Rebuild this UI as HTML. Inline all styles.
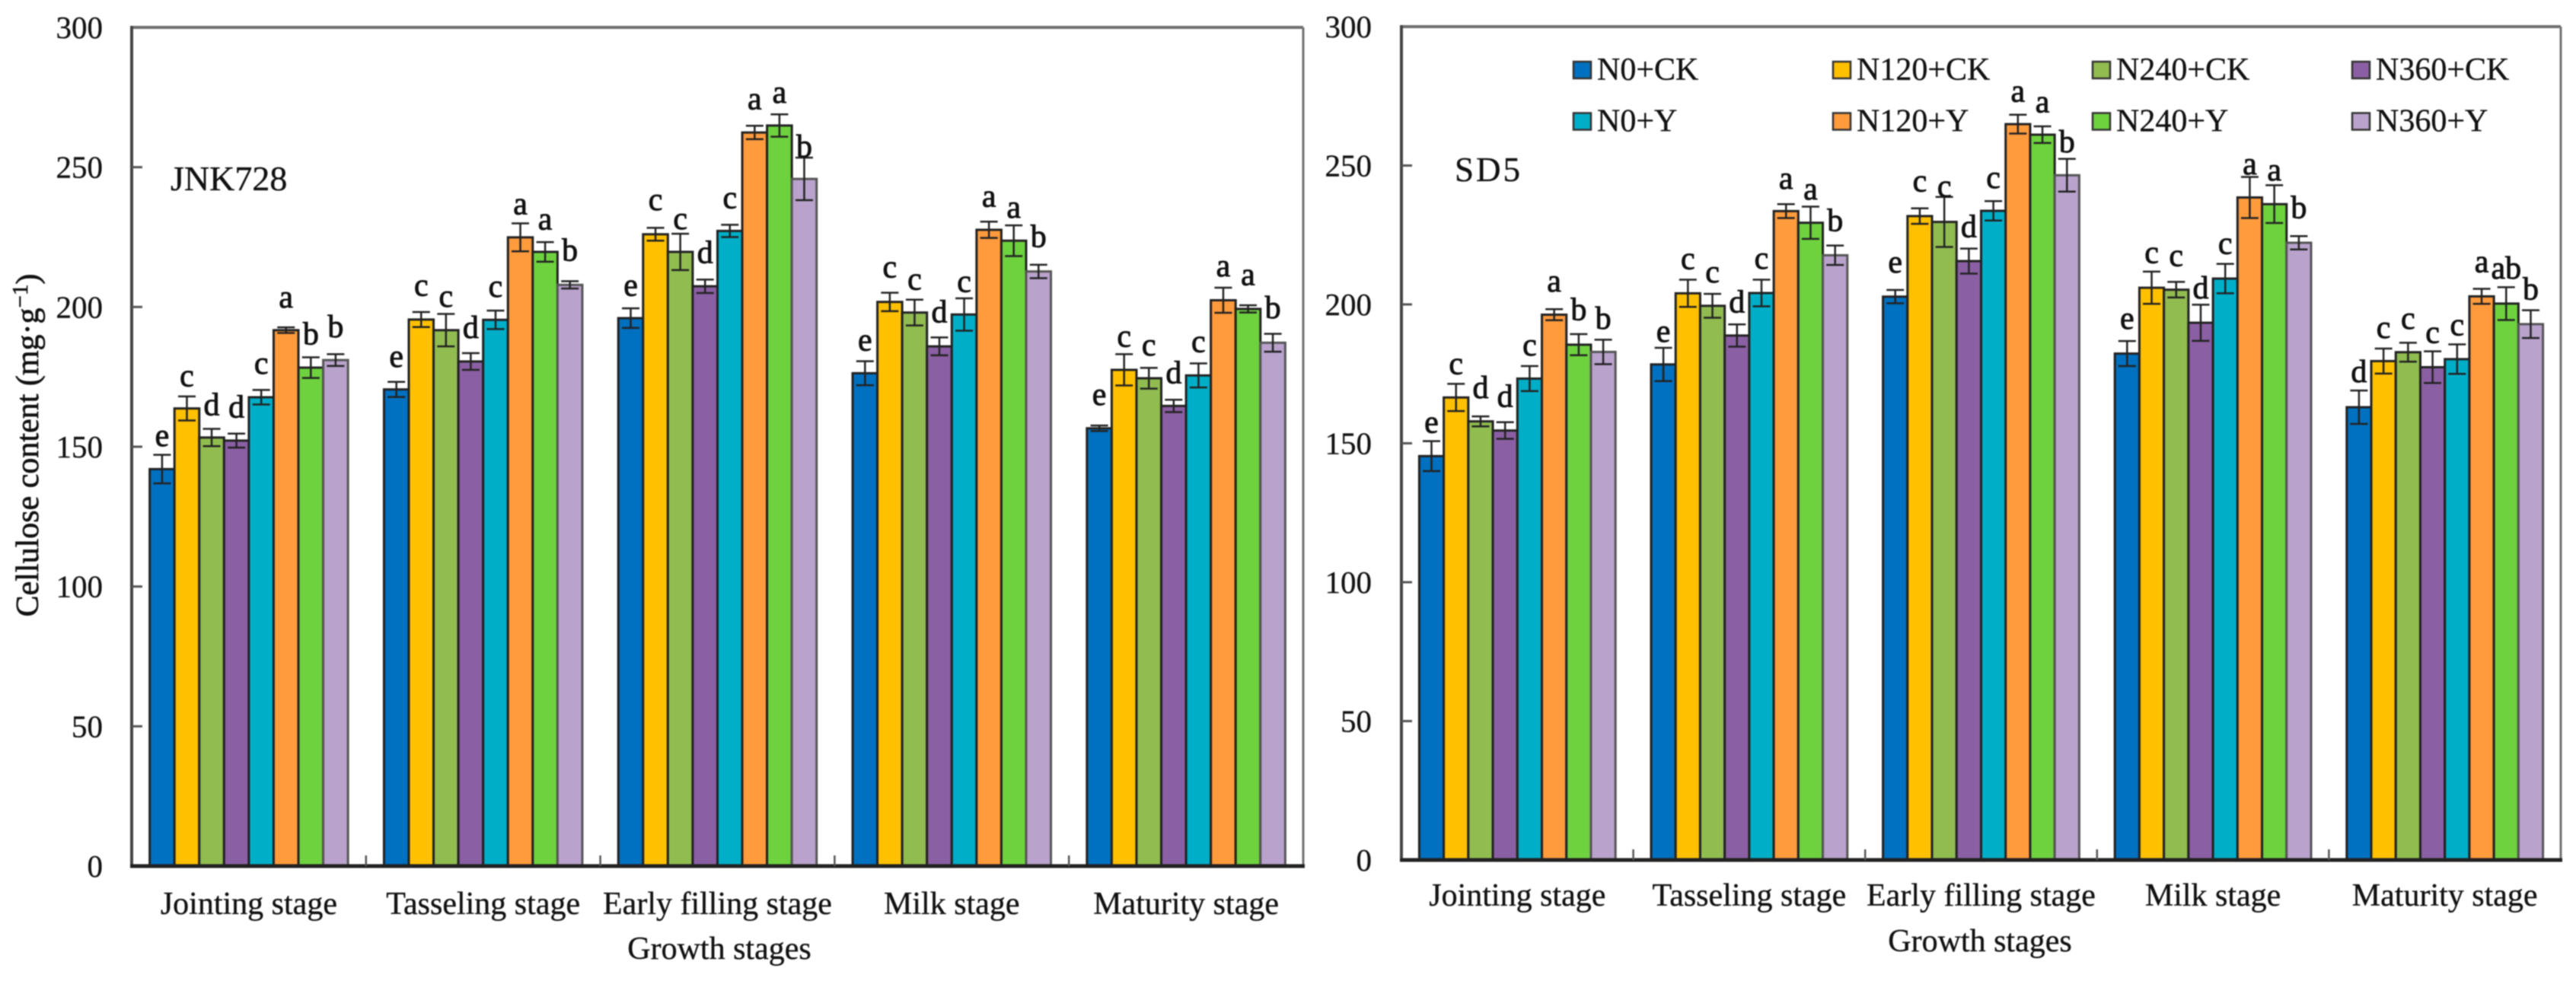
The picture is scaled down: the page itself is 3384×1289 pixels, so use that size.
<!DOCTYPE html>
<html lang="en">
<head>
<meta charset="utf-8">
<title>Cellulose content by growth stage</title>
<style>
  html, body { margin: 0; padding: 0; background: #fff; }
  body { width: 3384px; height: 1289px; overflow: hidden; }
  svg { display: block; filter: blur(0.8px); }
  text { font-family: "Liberation Serif", "Times New Roman", serif; fill: #111; stroke: #111; stroke-width: 0.35px; }
  .tick { font-size: 41px; text-anchor: end; }
  .cat { font-size: 42px; text-anchor: middle; }
  .axis-title { font-size: 42px; text-anchor: middle; }
  .y-title { stroke-width: 0.7px; }
  .letter { font-size: 42px; text-anchor: middle; stroke-width: 0.9px; }
  .legend-text { font-size: 42px; }
</style>
</head>
<body>
<svg id="figure" xmlns="http://www.w3.org/2000/svg" width="3384" height="1289" viewBox="0 0 3384 1289">
  <rect x="0" y="0" width="3384" height="1289" fill="#fff"/>
  <g id="panel-left"></g>
  <g id="panel-right"></g>
  <text class="axis-title y-title" transform="translate(50 585) rotate(-90)">Cellulose content (mg·g<tspan font-size="29" dy="-14">−1</tspan><tspan dy="14">)</tspan></text>
  <text class="axis-title" x="945" y="1260">Growth stages</text>
  <text class="axis-title" x="2601" y="1250">Growth stages</text>
  <text x="224" y="250" font-size="46">JNK728</text>
  <text x="1911" y="238" font-size="45" letter-spacing="3">SD5</text>
  <g id="legend"></g>
</svg>
<script>
const stages = ["Jointing stage", "Tasseling stage", "Early filling stage", "Milk stage", "Maturity stage"];
const treatments = ["N0+CK", "N120+CK", "N240+CK", "N360+CK", "N0+Y", "N120+Y", "N240+Y", "N360+Y"];
const treatmentColors = ["#0070C0", "#FFC000", "#90BC50", "#8B5FA3", "#00AEC8", "#FF9A3D", "#6ED23F", "#B9A2CC"];
const yTicks = [0, 50, 100, 150, 200, 250, 300];

const jnkMeans = [
  [142.0, 163.7, 153.3, 152.2, 167.7, 191.7, 178.3, 181.0],
  [170.5, 195.5, 191.7, 180.5, 195.4, 224.9, 219.7, 207.9],
  [196.0, 226.0, 219.7, 207.4, 227.2, 262.4, 264.9, 245.8],
  [176.3, 201.8, 198.0, 185.9, 197.3, 227.6, 223.7, 212.7],
  [156.6, 177.5, 174.5, 164.6, 175.5, 202.4, 199.3, 187.2]
];
const jnkErrors = [
  [5.1, 4.3, 3.1, 2.5, 2.6, 1.0, 3.7, 2.1],
  [2.7, 2.7, 5.8, 3.0, 3.3, 5.0, 3.5, 1.3],
  [3.5, 2.3, 6.5, 2.4, 2.2, 2.4, 4.0, 7.6],
  [4.3, 3.3, 4.6, 3.2, 5.8, 2.9, 5.5, 2.4],
  [1.0, 5.6, 3.7, 2.2, 4.3, 4.5, 1.3, 3.2]
];
const jnkLetters = [
  ["e", "c", "d", "d", "c", "a", "b", "b"],
  ["e", "c", "c", "d", "c", "a", "a", "b"],
  ["e", "c", "c", "d", "c", "a", "a", "b"],
  ["e", "c", "c", "d", "c", "a", "a", "b"],
  ["e", "c", "c", "d", "c", "a", "a", "b"]
];
const jnkLetterLift = [
  [3.2, 3.6, 4.9, 5.8, 5.9, 7.1, 4.6, 6.1],
  [5.4, 5.9, 2.6, 5.4, 4.9, 3.3, 4.5, 7.3],
  [4.6, 6.3, 1.6, 6.0, 6.0, 6.0, 4.1, 0.3],
  [3.8, 5.5, 3.6, 5.4, 2.3, 5.4, 2.8, 6.3],
  [7.4, 2.7, 4.4, 5.9, 4.1, 4.1, 7.2, 5.6]
];

const sdMeans = [
  [145.4, 166.5, 157.9, 154.6, 173.3, 196.3, 185.5, 182.9],
  [178.4, 204.0, 199.5, 188.8, 204.1, 233.6, 229.4, 217.7],
  [202.8, 231.8, 229.7, 215.6, 233.7, 264.9, 261.1, 246.5],
  [182.3, 206.0, 205.3, 193.4, 209.3, 238.5, 236.1, 222.2],
  [163.0, 179.6, 182.8, 177.4, 180.3, 202.9, 200.3, 192.9]
];
const sdErrors = [
  [5.4, 4.9, 1.8, 3.0, 4.5, 2.0, 3.8, 4.4],
  [6.0, 4.9, 4.3, 4.0, 4.8, 2.5, 5.8, 3.5],
  [2.4, 2.8, 9.0, 4.5, 3.5, 3.4, 3.0, 5.9],
  [4.5, 5.8, 2.8, 6.5, 5.3, 7.4, 6.8, 2.4],
  [6.0, 4.5, 3.4, 5.7, 5.3, 2.7, 5.9, 5.0]
];
const sdLetters = [
  ["e", "c", "d", "d", "c", "a", "b", "b"],
  ["e", "c", "c", "d", "c", "a", "a", "b"],
  ["e", "c", "c", "d", "c", "a", "a", "b"],
  ["e", "c", "c", "d", "c", "a", "a", "b"],
  ["d", "c", "c", "c", "c", "a", "ab", "b"]
];
const sdLetterLift = [
  [3.1, 3.6, 6.6, 5.5, 3.9, 6.4, 5.1, 4.0],
  [2.2, 3.8, 4.2, 4.3, 4.0, 5.5, 2.6, 5.2],
  [6.3, 6.1, 0.1, 4.2, 4.7, 4.7, 5.1, 2.4],
  [4.4, 3.2, 5.7, 2.3, 3.6, 0.9, 1.7, 6.5],
  [3.1, 3.9, 5.0, 3.0, 3.3, 6.1, 3.1, 3.9]
];

const SVG_NS = "http://www.w3.org/2000/svg";
function make(tag, parent) {
  const node = document.createElementNS(SVG_NS, tag);
  parent.appendChild(node);
  return node;
}
function drawLine(parent, x1, y1, x2, y2, color, width) {
  const l = make("line", parent);
  l.setAttribute("x1", x1);
  l.setAttribute("y1", y1);
  l.setAttribute("x2", x2);
  l.setAttribute("y2", y2);
  l.setAttribute("stroke", color);
  l.setAttribute("stroke-width", width);
  return l;
}

function drawPanel(parent, box, means, errors, letters, lifts) {
  const yMax = yTicks[yTicks.length - 1];
  const yScale = v => box.bottom - (v / yMax) * (box.bottom - box.top);
  const bandWidth = (box.right - box.left) / stages.length;
  const barWidth = bandWidth * 0.1058;
  const barsStart = i => box.left + bandWidth * i + (bandWidth - barWidth * treatments.length) / 2;
  const barX = (i, j) => barsStart(i) + barWidth * j;

  stages.forEach((stage, i) => {
    treatments.forEach((treatment, j) => {
      const x = barX(i, j);
      const top = yScale(means[i][j]);
      const bar = make("rect", parent);
      
      
      bar.setAttribute("x", x);
      bar.setAttribute("y", top);
      bar.setAttribute("width", barWidth);
      bar.setAttribute("height", box.bottom - top);
      bar.setAttribute("fill", treatmentColors[j]);
      bar.setAttribute("stroke", j === 7 ? "#555" : "#222");
      bar.setAttribute("stroke-width", 3);
    });
  });

  stages.forEach((stage, i) => {
    treatments.forEach((treatment, j) => {
      const cx = barX(i, j) + barWidth / 2;
      const hi = yScale(means[i][j] + errors[i][j]);
      const lo = yScale(means[i][j] - errors[i][j]);
      const stem = drawLine(parent, cx, hi, cx, lo, "#222", 2.5);
      
      
      const capTop = drawLine(parent, cx - 11.5, hi, cx + 11.5, hi, "#222", 2.5);
      
      
      const capBottom = drawLine(parent, cx - 11.5, lo, cx + 11.5, lo, "#222", 2.5);
      
      
      const mark = make("text", parent);
      
      
      mark.setAttribute("class", "letter");
      mark.setAttribute("x", cx);
      mark.setAttribute("y", yScale(means[i][j] + errors[i][j] + lifts[i][j]));
      mark.textContent = letters[i][j];
    });
  });

  const topEdge = drawLine(parent, box.left, box.top, box.right, box.top, "#707070", 4);
  
  
  const rightEdge = drawLine(parent, box.right, box.top, box.right, box.bottom, "#707070", 3);
  
  
  const yAxis = drawLine(parent, box.left, box.top - 2, box.left, box.bottom, "#444", 4);
  
  
  const xAxis = drawLine(parent, box.left - 2, box.bottom, box.right + 2, box.bottom, "#222", 5);
  
  

  yTicks.forEach(t => {
    const y = yScale(t);
    if (t !== 0 && t !== yMax) {
      const tick = drawLine(parent, box.left, y, box.left + 14, y, "#555", 3);
      
      
    }
    const label = make("text", parent);
    
    
    label.setAttribute("class", "tick");
    label.setAttribute("x", box.tickX);
    label.setAttribute("y", y + 14);
    label.textContent = t;
  });

  stages.forEach((stage, i) => {
    if (i > 0) {
      const x = box.left + bandWidth * i;
      const tick = drawLine(parent, x, box.bottom, x, box.bottom - 14, "#555", 2.5);
      
      
    }
    const label = make("text", parent);
    
    
    label.setAttribute("class", "cat");
    label.setAttribute("x", box.left + bandWidth * (i + 0.5));
    label.setAttribute("y", box.catY);
    label.textContent = stage;
  });
}

drawPanel(document.getElementById("panel-left"),
  { left: 173, right: 1712, top: 36, bottom: 1138, tickX: 135, catY: 1201 },
  jnkMeans, jnkErrors, jnkLetters, jnkLetterLift);
drawPanel(document.getElementById("panel-right"),
  { left: 1841, right: 3364, top: 35, bottom: 1130, tickX: 1802, catY: 1190 },
  sdMeans, sdErrors, sdLetters, sdLetterLift);

const legendRoot = document.getElementById("legend");
treatments.forEach((treatment, k) => {
  const col = k % 4;
  const row = Math.floor(k / 4);
  const x = 2067 + col * 341;
  const y = 81 + row * 67.5;
  const swatch = make("rect", legendRoot);
  
  
  swatch.setAttribute("x", x);
  swatch.setAttribute("y", y);
  swatch.setAttribute("width", 23);
  swatch.setAttribute("height", 22);
  swatch.setAttribute("fill", treatmentColors[k]);
  swatch.setAttribute("stroke", "#333");
  swatch.setAttribute("stroke-width", 2.5);
  const label = make("text", legendRoot);
  
  
  label.setAttribute("class", "legend-text");
  label.setAttribute("x", x + 31);
  label.setAttribute("y", y + 24);
  label.textContent = treatment;
});
</script>
</body>
</html>
